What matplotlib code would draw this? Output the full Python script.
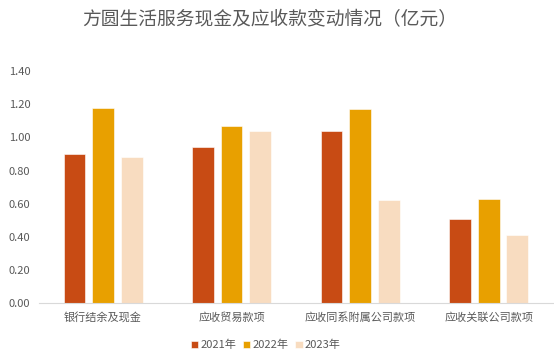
import numpy as np
import matplotlib
matplotlib.use('Agg')
from matplotlib import pyplot as plt

plt.rcParams['font.family'] = ['Noto Sans CJK SC', 'DejaVu Sans']

categories = ['银行结余及现金', '应收贸易款项', '应收同系附属公司款项', '应收关联公司款项']
years = ['2021年', '2022年', '2023年']
v2021 = [0.90, 0.94, 1.04, 0.51]
v2022 = [1.18, 1.07, 1.17, 0.63]
v2023 = [0.88, 1.04, 0.62, 0.41]
colors = ['#C84B14', '#E8A000', '#F8DCC0']

fig = plt.figure(figsize=(5.54, 3.54), dpi=100)
ax = fig.add_axes([0.070, 0.144, 0.928, 0.655])

x = np.arange(len(categories))
w = 0.17
step = 0.222
for i, vals in enumerate([v2021, v2022, v2023]):
    ax.bar(x + (i - 1) * step, vals, width=w, color=colors[i],
           edgecolor='white', linewidth=0.4, label=years[i])

ax.set_xlim(-0.5, len(categories) - 0.5)
ax.set_ylim(0, 1.4)
ax.set_yticks(np.arange(0, 1.41, 0.2))
ax.set_yticklabels(['%.2f' % v for v in np.arange(0, 1.41, 0.2)])
ax.set_xticks(x)
ax.set_xticklabels(categories)
for s in ['top', 'right', 'left']:
    ax.spines[s].set_visible(False)
ax.spines['bottom'].set_color('#D9D9D9')
ax.tick_params(axis='both', length=0, labelsize=8, colors='#595959')
ax.tick_params(axis='x', pad=7)
ax.tick_params(axis='y', pad=6)

fig.suptitle('方圆生活服务现金及应收款变动情况（亿元）', x=0.486, y=0.975,
             fontsize=13.5, color='#595959')
leg = fig.legend(loc='lower center', bbox_to_anchor=(0.48, -0.018), ncol=3, frameon=False,
                 fontsize=8, handlelength=0.65, handleheight=0.65, handletextpad=0.2,
                 columnspacing=0.6)
for t in leg.get_texts():
    t.set_color('#595959')

plt.savefig('out.png', dpi=100)
